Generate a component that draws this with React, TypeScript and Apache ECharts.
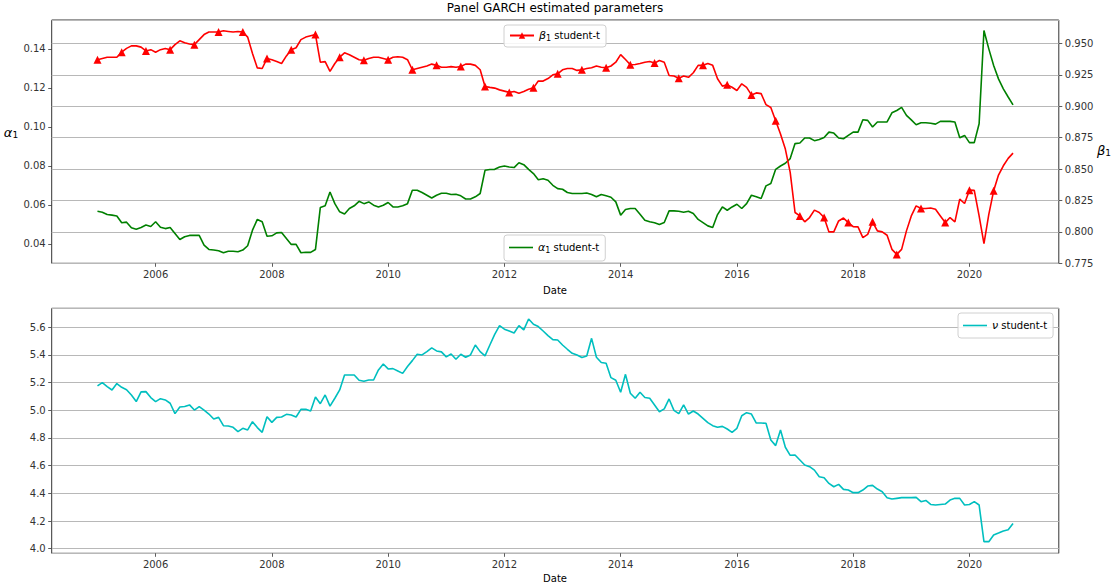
import React, { useEffect, useRef } from "react";
import * as echarts from "echarts";

const START_YEAR = 2005;
const MARK_EVERY = 5;
const X_TICK_LABELS = ["2006", "2008", "2010", "2012", "2014", "2016", "2018", "2020"];

const alpha1 = [
  0.0567, 0.0562, 0.0550, 0.0547, 0.0543, 0.0508, 0.0511, 0.0482, 0.0475, 0.0484,
  0.0496, 0.0489, 0.0513, 0.0485, 0.0478, 0.0484, 0.0453, 0.0422, 0.0436, 0.0443,
  0.0443, 0.0443, 0.0393, 0.0371, 0.0368, 0.0364, 0.0354, 0.0362, 0.0362, 0.0359,
  0.0368, 0.0390, 0.0470, 0.0525, 0.0513, 0.0439, 0.0441, 0.0456, 0.0458, 0.0427,
  0.0397, 0.0397, 0.0354, 0.0357, 0.0356, 0.0371, 0.0586, 0.0595, 0.0666, 0.0606,
  0.0564, 0.0553, 0.0581, 0.0595, 0.0618, 0.0606, 0.0615, 0.0598, 0.0589, 0.0598,
  0.0612, 0.0589, 0.0589, 0.0595, 0.0606, 0.0675, 0.0675, 0.0663, 0.0649, 0.0635,
  0.0649, 0.0659, 0.0659, 0.0653, 0.0654, 0.0646, 0.0630, 0.0630, 0.0641, 0.0658,
  0.0777, 0.0781, 0.0782, 0.0794, 0.0799, 0.0794, 0.0791, 0.0816, 0.0806, 0.0782,
  0.0760, 0.0729, 0.0734, 0.0726, 0.0700, 0.0683, 0.0680, 0.0663, 0.0658, 0.0658,
  0.0658, 0.0661, 0.0653, 0.0641, 0.0653, 0.0646, 0.0639, 0.0615, 0.0547, 0.0576,
  0.0581, 0.0581, 0.0552, 0.0521, 0.0513, 0.0508, 0.0499, 0.0509, 0.0569, 0.0569,
  0.0567, 0.0562, 0.0567, 0.0555, 0.0525, 0.0509, 0.0492, 0.0484, 0.0550, 0.0589,
  0.0572, 0.0589, 0.0603, 0.0581, 0.0606, 0.0649, 0.0641, 0.0632, 0.0697, 0.0709,
  0.0782, 0.0799, 0.0813, 0.0837, 0.0914, 0.0917, 0.0943, 0.0943, 0.0929, 0.0935,
  0.0945, 0.0973, 0.0968, 0.0943, 0.0939, 0.0956, 0.0973, 0.0973, 0.1036, 0.1033,
  0.0999, 0.1025, 0.1025, 0.1025, 0.1072, 0.1084, 0.1100, 0.1059, 0.1036, 0.1011,
  0.1021, 0.1021, 0.1018, 0.1014, 0.1028, 0.1028, 0.1028, 0.1025, 0.0944, 0.0956,
  0.0919, 0.0919, 0.1016, 0.1494, 0.1400, 0.1315, 0.1246, 0.1195, 0.1153, 0.1113,
];

const beta1 = [
  0.937, 0.938, 0.939, 0.939, 0.939, 0.943, 0.946, 0.948, 0.948, 0.947,
  0.944, 0.945, 0.943, 0.945, 0.946, 0.945, 0.949, 0.952, 0.9505, 0.9495,
  0.949, 0.953, 0.957, 0.959, 0.959, 0.959, 0.960, 0.9595, 0.959, 0.9595,
  0.959, 0.955, 0.942, 0.9305, 0.930, 0.938, 0.937, 0.9355, 0.934, 0.940,
  0.945, 0.9465, 0.953, 0.955, 0.956, 0.957, 0.935, 0.9355, 0.9277, 0.934,
  0.939, 0.9425, 0.941, 0.939, 0.937, 0.9365, 0.938, 0.939, 0.939, 0.938,
  0.937, 0.939, 0.9394, 0.939, 0.937, 0.929, 0.930, 0.931, 0.932, 0.9335,
  0.9325, 0.931, 0.931, 0.9315, 0.931, 0.9316, 0.9335, 0.9335, 0.9325, 0.929,
  0.9157, 0.915, 0.9144, 0.913, 0.912, 0.911, 0.9117, 0.9104, 0.9117, 0.9135,
  0.9146, 0.920, 0.920, 0.922, 0.925, 0.9258, 0.929, 0.930, 0.930, 0.9285,
  0.929, 0.930, 0.9306, 0.932, 0.931, 0.9306, 0.932, 0.935, 0.941, 0.9372,
  0.933, 0.9332, 0.934, 0.935, 0.9356, 0.9343, 0.9364, 0.935, 0.9245, 0.924,
  0.9223, 0.924, 0.923, 0.9266, 0.9325, 0.9325, 0.934, 0.9325, 0.9218, 0.916,
  0.917, 0.9151, 0.9125, 0.9178, 0.915, 0.909, 0.9106, 0.910, 0.9013, 0.899,
  0.8885, 0.8779, 0.8659, 0.8473, 0.8154, 0.8127, 0.808, 0.8114, 0.8173, 0.8154,
  0.8114, 0.800, 0.800, 0.8087, 0.811, 0.8074, 0.8042, 0.804, 0.7954, 0.798,
  0.808, 0.8008, 0.800, 0.7973, 0.7861, 0.7821, 0.7861, 0.8008, 0.8127, 0.8207,
  0.8186, 0.8186, 0.819, 0.818, 0.8127, 0.8074, 0.8114, 0.808, 0.826, 0.8226,
  0.8332, 0.833, 0.8127, 0.7906, 0.814, 0.8327, 0.8452, 0.8526, 0.8585, 0.8627,
];

const nu = [
  5.176, 5.200, 5.171, 5.147, 5.193, 5.166, 5.149, 5.111, 5.063, 5.133,
  5.135, 5.092, 5.063, 5.084, 5.075, 5.051, 4.976, 5.024, 5.027, 5.039,
  5.002, 5.027, 5.002, 4.973, 4.937, 4.949, 4.889, 4.887, 4.877, 4.846,
  4.870, 4.858, 4.918, 4.875, 4.841, 4.954, 4.913, 4.949, 4.952, 4.971,
  4.966, 4.952, 5.007, 5.007, 4.995, 5.096, 5.048, 5.111, 5.030, 5.087,
  5.147, 5.255, 5.255, 5.255, 5.217, 5.210, 5.219, 5.219, 5.292, 5.335,
  5.299, 5.301, 5.284, 5.267, 5.316, 5.359, 5.405, 5.400, 5.424, 5.451,
  5.429, 5.422, 5.386, 5.407, 5.369, 5.405, 5.383, 5.400, 5.472, 5.424,
  5.393, 5.472, 5.549, 5.612, 5.586, 5.573, 5.559, 5.612, 5.581, 5.660,
  5.622, 5.605, 5.573, 5.540, 5.511, 5.508, 5.472, 5.441, 5.412, 5.400,
  5.381, 5.393, 5.520, 5.383, 5.345, 5.340, 5.236, 5.217, 5.130, 5.260,
  5.123, 5.087, 5.130, 5.092, 5.087, 5.039, 4.990, 5.010, 5.082, 5.000,
  4.976, 5.039, 4.973, 4.995, 4.973, 4.942, 4.911, 4.889, 4.877, 4.884,
  4.865, 4.841, 4.870, 4.961, 4.983, 4.973, 4.908, 4.908, 4.906, 4.786,
  4.745, 4.858, 4.733, 4.675, 4.677, 4.641, 4.605, 4.593, 4.568, 4.520,
  4.513, 4.472, 4.448, 4.465, 4.429, 4.424, 4.405, 4.405, 4.424, 4.453,
  4.458, 4.431, 4.412, 4.369, 4.359, 4.364, 4.369, 4.369, 4.369, 4.371,
  4.340, 4.349, 4.320, 4.316, 4.320, 4.323, 4.352, 4.364, 4.364, 4.316,
  4.320, 4.340, 4.316, 4.051, 4.051, 4.099, 4.113, 4.128, 4.137, 4.183,
];

const FONT = "DejaVu Sans";
const TXT = "#333";
const GRID_LINE = "#b8b8b8";
const X_MIN = 2004.2125;
const X_MAX = 2021.5375;

const richSub = {
  g: { fontFamily: FONT, fontStyle: "italic", fontSize: 11, color: "#000" },
  s: { fontFamily: FONT, fontSize: 8, color: "#000", padding: [5, 0, 0, 0] },
  t: { fontFamily: FONT, fontSize: 10, color: "#000" },
};

const richAxis = {
  g: { fontFamily: FONT, fontStyle: "italic", fontSize: 13, color: "#000" },
  s: { fontFamily: FONT, fontSize: 9, color: "#000", padding: [6, 0, 0, 0] },
};

export default function App() {
  const ref = useRef<HTMLDivElement>(null);

  useEffect(() => {
    if (!ref.current) return;
    const chart = echarts.init(ref.current, null, { renderer: "svg" });
    const xs = nu.map((_, i) => START_YEAR + i / 12);

    const xAxisBase = (gridIndex: number) => ({
      type: "value",
      gridIndex,
      min: X_MIN,
      max: X_MAX,
      splitNumber: 8,
      axisLine: { show: false },
      axisTick: { show: true, length: 3.5, lineStyle: { color: "#333", width: 0.8 } },
      axisLabel: {
        fontFamily: FONT,
        fontSize: 10,
        color: TXT,
        margin: 6,
        showMinLabel: false,
        showMaxLabel: false,
        formatter: (v: number) => {
          const s = String(Math.round(v));
          return X_TICK_LABELS.includes(s) ? s : "";
        },
      },
      splitLine: { show: false },
    });

    const legendBase = {
      orient: "horizontal",
      padding: [5, 6, 5, 5],
      itemWidth: 24,
      itemHeight: 8,
      itemGap: 6,
      backgroundColor: "rgba(255,255,255,0.85)",
      borderColor: "#d0d0d0",
      borderWidth: 1,
      borderRadius: 3,
      selectedMode: false,
      textStyle: { fontFamily: FONT, fontSize: 10, color: "#000", rich: richSub },
    };

    const option: any = {
      animation: false,
      backgroundColor: "#fff",
      grid: [
        { left: 51.7, top: 20, width: 1007.1, height: 243.3, show: true, borderColor: "#333", borderWidth: 1, backgroundColor: "transparent" },
        { left: 51.7, top: 308.3, width: 1007.1, height: 245, show: true, borderColor: "#333", borderWidth: 1, backgroundColor: "transparent" },
      ],
      xAxis: [xAxisBase(0), xAxisBase(1)],
      yAxis: [
        {
          type: "value",
          gridIndex: 0,
          position: "left",
          min: 0.03,
          max: 0.1548,
          splitNumber: 6,
          axisLine: { show: false },
          axisTick: { show: true, length: 3.5, lineStyle: { color: "#333", width: 0.8 } },
          axisLabel: {
            fontFamily: FONT, fontSize: 10, color: TXT, margin: 6,
            showMinLabel: false, showMaxLabel: false,
            formatter: (v: number) => v.toFixed(2),
          },
          splitLine: { show: false },
        },
        {
          type: "value",
          gridIndex: 0,
          position: "right",
          min: 0.775,
          max: 0.9686,
          interval: 0.025,
          axisLine: { show: false },
          axisTick: { show: true, length: 3.5, lineStyle: { color: "#333", width: 0.8 } },
          axisLabel: {
            fontFamily: FONT, fontSize: 10, color: TXT, margin: 6,
            showMaxLabel: false,
            formatter: (v: number) => v.toFixed(3),
          },
          splitLine: { show: true, lineStyle: { color: GRID_LINE, width: 1 } },
        },
        {
          type: "value",
          gridIndex: 1,
          position: "left",
          min: 3.967,
          max: 5.737,
          splitNumber: 9,
          axisLine: { show: false },
          axisTick: { show: true, length: 3.5, lineStyle: { color: "#333", width: 0.8 } },
          axisLabel: {
            fontFamily: FONT, fontSize: 10, color: TXT, margin: 6,
            showMinLabel: false, showMaxLabel: false,
            formatter: (v: number) => v.toFixed(1),
          },
          splitLine: { show: true, lineStyle: { color: GRID_LINE, width: 1 } },
        },
      ],
      legend: [
        { ...legendBase, left: 504, top: 25, data: ["beta"], formatter: () => "{g|β}{s|1}{t| student-t}" },
        {
          ...legendBase, left: 504, top: 235, icon: "rect", itemHeight: 1.6,
          padding: [7, 6, 7, 5],
          data: ["alpha"], formatter: () => "{g|α}{s|1}{t| student-t}",
        },
        {
          ...legendBase, left: 958, top: 313, icon: "rect", itemHeight: 1.6,
          padding: [7, 6, 7, 5],
          data: ["nu"], formatter: () => "{g|ν}{t| student-t}",
        },
      ],
      series: [
        {
          name: "alpha",
          type: "line",
          xAxisIndex: 0,
          yAxisIndex: 0,
          data: xs.map((x, i) => [x, alpha1[i]]),
          symbol: "none",
          color: "#008000",
          lineStyle: { color: "#008000", width: 1.6 },
          z: 3,
        },
        {
          name: "beta",
          type: "line",
          xAxisIndex: 0,
          yAxisIndex: 1,
          data: xs.map((x, i) => ({
            value: [x, beta1[i]],
            symbol: i % MARK_EVERY === 0 ? "triangle" : "none",
          })),
          symbol: "triangle",
          symbolSize: 8,
          showAllSymbol: true,
          color: "#ff0000",
          itemStyle: { color: "#ff0000" },
          lineStyle: { color: "#ff0000", width: 1.6 },
          z: 4,
        },
        {
          name: "nu",
          type: "line",
          xAxisIndex: 1,
          yAxisIndex: 2,
          data: xs.map((x, i) => [x, nu[i]]),
          symbol: "none",
          color: "#00bfbf",
          lineStyle: { color: "#00bfbf", width: 1.6 },
          z: 3,
        },
      ],
      graphic: [
        {
          type: "text", x: 555, y: 8,
          style: { text: "Panel GARCH estimated parameters", fontFamily: FONT, fontSize: 12, fill: "#000", align: "center", verticalAlign: "middle" },
        },
        {
          type: "text", x: 555, y: 290,
          style: { text: "Date", fontFamily: FONT, fontSize: 10, fill: "#000", align: "center", verticalAlign: "middle" },
        },
        {
          type: "text", x: 555, y: 578,
          style: { text: "Date", fontFamily: FONT, fontSize: 10, fill: "#000", align: "center", verticalAlign: "middle" },
        },
        {
          type: "text", x: 11, y: 132,
          style: { text: "{g|α}{s|1}", rich: richAxis, align: "center", verticalAlign: "middle" },
        },
        {
          type: "text", x: 1104, y: 150,
          style: { text: "{g|β}{s|1}", rich: richAxis, align: "center", verticalAlign: "middle" },
        },
      ],
    };

    chart.setOption(option);
    return () => chart.dispose();
  }, []);

  return <div ref={ref} style={{ position: "fixed", left: 0, top: 0, width: 1112, height: 584 }} />;
}
